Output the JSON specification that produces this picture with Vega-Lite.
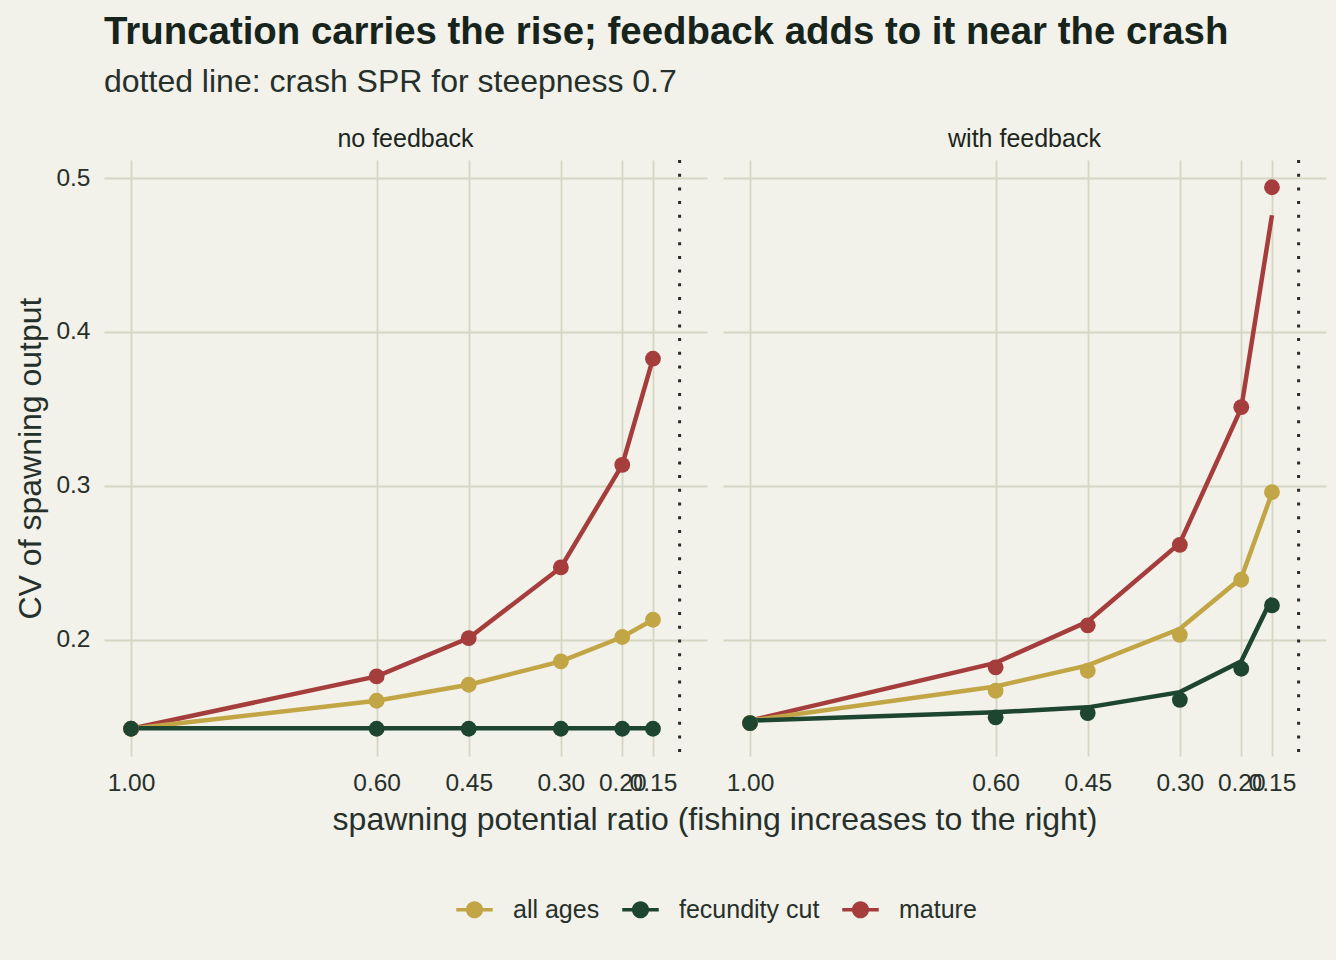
{
  "$schema": "https://vega.github.io/schema/vega-lite/v6.json",
  "background": "#f2f1ea",
  "padding": {"left": 14, "top": 12, "right": 10, "bottom": 40},
  "title": {
    "text": "Truncation carries the rise; feedback adds to it near the crash",
    "subtitle": "dotted line: crash SPR for steepness 0.7",
    "anchor": "start",
    "frame": "group",
    "font": "Liberation Sans",
    "fontSize": 38.4,
    "fontWeight": "bold",
    "color": "#17241c",
    "subtitleFont": "Liberation Sans",
    "subtitleFontSize": 32,
    "subtitleColor": "#26302a",
    "subtitlePadding": 15,
    "offset": 28
  },
  "data": {
    "values": [
      {"panel": "no feedback", "series": "mature", "spr": 1.0, "cv": 0.1422, "cv_line": 0.1422, "crash": 0.1066},
      {"panel": "no feedback", "series": "mature", "spr": 0.6, "cv": 0.1762, "cv_line": 0.1762, "crash": 0.1066},
      {"panel": "no feedback", "series": "mature", "spr": 0.45, "cv": 0.2011, "cv_line": 0.2011, "crash": 0.1066},
      {"panel": "no feedback", "series": "mature", "spr": 0.3, "cv": 0.247, "cv_line": 0.247, "crash": 0.1066},
      {"panel": "no feedback", "series": "mature", "spr": 0.2, "cv": 0.3136, "cv_line": 0.3136, "crash": 0.1066},
      {"panel": "no feedback", "series": "mature", "spr": 0.15, "cv": 0.3826, "cv_line": 0.3826, "crash": 0.1066},
      {"panel": "no feedback", "series": "all ages", "spr": 1.0, "cv": 0.1422, "cv_line": 0.1422, "crash": 0.1066},
      {"panel": "no feedback", "series": "all ages", "spr": 0.6, "cv": 0.1604, "cv_line": 0.1604, "crash": 0.1066},
      {"panel": "no feedback", "series": "all ages", "spr": 0.45, "cv": 0.1708, "cv_line": 0.1708, "crash": 0.1066},
      {"panel": "no feedback", "series": "all ages", "spr": 0.3, "cv": 0.186, "cv_line": 0.186, "crash": 0.1066},
      {"panel": "no feedback", "series": "all ages", "spr": 0.2, "cv": 0.2018, "cv_line": 0.2018, "crash": 0.1066},
      {"panel": "no feedback", "series": "all ages", "spr": 0.15, "cv": 0.213, "cv_line": 0.213, "crash": 0.1066},
      {"panel": "no feedback", "series": "fecundity cut", "spr": 1.0, "cv": 0.1422, "cv_line": 0.1425, "crash": 0.1066},
      {"panel": "no feedback", "series": "fecundity cut", "spr": 0.6, "cv": 0.1422, "cv_line": 0.1425, "crash": 0.1066},
      {"panel": "no feedback", "series": "fecundity cut", "spr": 0.45, "cv": 0.1422, "cv_line": 0.1425, "crash": 0.1066},
      {"panel": "no feedback", "series": "fecundity cut", "spr": 0.3, "cv": 0.1422, "cv_line": 0.1425, "crash": 0.1066},
      {"panel": "no feedback", "series": "fecundity cut", "spr": 0.2, "cv": 0.1422, "cv_line": 0.1425, "crash": 0.1066},
      {"panel": "no feedback", "series": "fecundity cut", "spr": 0.15, "cv": 0.1422, "cv_line": 0.1425, "crash": 0.1066},
      {"panel": "with feedback", "series": "mature", "spr": 1.0, "cv": 0.1459, "cv_line": 0.1475, "crash": 0.1066},
      {"panel": "with feedback", "series": "mature", "spr": 0.6, "cv": 0.1821, "cv_line": 0.185, "crash": 0.1066},
      {"panel": "with feedback", "series": "mature", "spr": 0.45, "cv": 0.2094, "cv_line": 0.2119, "crash": 0.1066},
      {"panel": "with feedback", "series": "mature", "spr": 0.3, "cv": 0.2617, "cv_line": 0.2628, "crash": 0.1066},
      {"panel": "with feedback", "series": "mature", "spr": 0.2, "cv": 0.3511, "cv_line": 0.3505, "crash": 0.1066},
      {"panel": "with feedback", "series": "mature", "spr": 0.15, "cv": 0.494, "cv_line": 0.4758, "crash": 0.1066},
      {"panel": "with feedback", "series": "all ages", "spr": 1.0, "cv": 0.1459, "cv_line": 0.1475, "crash": 0.1066},
      {"panel": "with feedback", "series": "all ages", "spr": 0.6, "cv": 0.1669, "cv_line": 0.1697, "crash": 0.1066},
      {"panel": "with feedback", "series": "all ages", "spr": 0.45, "cv": 0.1799, "cv_line": 0.1834, "crash": 0.1066},
      {"panel": "with feedback", "series": "all ages", "spr": 0.3, "cv": 0.2032, "cv_line": 0.2071, "crash": 0.1066},
      {"panel": "with feedback", "series": "all ages", "spr": 0.2, "cv": 0.239, "cv_line": 0.2401, "crash": 0.1066},
      {"panel": "with feedback", "series": "all ages", "spr": 0.15, "cv": 0.2959, "cv_line": 0.2953, "crash": 0.1066},
      {"panel": "with feedback", "series": "fecundity cut", "spr": 1.0, "cv": 0.1459, "cv_line": 0.1475, "crash": 0.1066},
      {"panel": "with feedback", "series": "fecundity cut", "spr": 0.6, "cv": 0.1496, "cv_line": 0.1529, "crash": 0.1066},
      {"panel": "with feedback", "series": "fecundity cut", "spr": 0.45, "cv": 0.1524, "cv_line": 0.1561, "crash": 0.1066},
      {"panel": "with feedback", "series": "fecundity cut", "spr": 0.3, "cv": 0.161, "cv_line": 0.166, "crash": 0.1066},
      {"panel": "with feedback", "series": "fecundity cut", "spr": 0.2, "cv": 0.1812, "cv_line": 0.186, "crash": 0.1066},
      {"panel": "with feedback", "series": "fecundity cut", "spr": 0.15, "cv": 0.2223, "cv_line": 0.2271, "crash": 0.1066}
    ]
  },
  "facet": {
    "column": {
      "field": "panel",
      "type": "nominal",
      "sort": ["no feedback", "with feedback"],
      "title": "spawning potential ratio (fishing increases to the right)",
      "header": {
        "titleOrient": "bottom",
        "labelOrient": "top",
        "labelFont": "Liberation Sans",
        "labelFontSize": 25,
        "labelColor": "#1c2620",
        "labelPadding": 6,
        "titleFont": "Liberation Sans",
        "titleFontSize": 32,
        "titleFontWeight": "normal",
        "titleColor": "#26302a",
        "titlePadding": 0
      }
    }
  },
  "spacing": 16,
  "spec": {
    "width": 603,
    "height": 596,
    "layer": [
      {
        "transform": [{"filter": "datum.series === 'fecundity cut' && datum.spr === 1"}],
        "mark": {"type": "rule", "color": "#2a2a2a", "strokeWidth": 3, "strokeDash": [3, 10.7]},
        "encoding": {
          "x": {"field": "crash", "type": "quantitative", "scale": {"domain": [0.062, 1.044], "reverse": true, "nice": false, "zero": false},
                "axis": {"values": [1, 0.6, 0.45, 0.3, 0.2, 0.15], "format": ".2f", "labelOverlap": false, "labelFlush": false, "title": null}}
        }
      },
      {
        "mark": {"type": "line", "strokeWidth": 4.5},
        "encoding": {
          "x": {"field": "spr", "type": "quantitative", "scale": {"domain": [0.062, 1.044], "reverse": true, "nice": false, "zero": false},
                "axis": {"values": [1, 0.6, 0.45, 0.3, 0.2, 0.15], "format": ".2f", "labelOverlap": false, "labelFlush": false, "title": null}},
          "y": {"field": "cv_line", "type": "quantitative", "scale": {"domain": [0.1245, 0.5117], "nice": false, "zero": false},
                "axis": {"values": [0.2, 0.3, 0.4, 0.5], "format": ".1f", "title": "CV of spawning output"}},
          "color": {
            "field": "series",
            "type": "nominal",
            "scale": {"domain": ["all ages", "fecundity cut", "mature"], "range": ["#c2a646", "#1e4530", "#a63d3d"]},
            "legend": {
              "title": null,
              "orient": "none",
              "legendX": 352,
              "legendY": 731,
              "direction": "horizontal",
              "symbolType": "M-1,-0.09 H1 V0.09 H-1 Z M0.47,0 A0.47,0.47 0 1,1 -0.47,0 A0.47,0.47 0 1,1 0.47,0 Z",
              "symbolSize": 1332,
              "symbolStrokeWidth": 0,
              "symbolOpacity": 1,
              "labelFont": "Liberation Sans",
              "labelFontSize": 25,
              "labelColor": "#26302a",
              "labelOffset": 20,
              "columnPadding": 22
            }
          },
          "order": {"field": "spr", "sort": "descending"}
        }
      },
      {
        "mark": {"type": "point", "filled": true, "opacity": 1, "size": 250, "shape": "circle"},
        "encoding": {
          "x": {"field": "spr", "type": "quantitative"},
          "y": {"field": "cv", "type": "quantitative", "axis": {"values": [0.2, 0.3, 0.4, 0.5], "format": ".1f", "title": "CV of spawning output"}},
          "color": {
            "field": "series",
            "type": "nominal",
            "scale": {"domain": ["all ages", "fecundity cut", "mature"], "range": ["#c2a646", "#1e4530", "#a63d3d"]},
            "legend": {
              "title": null,
              "orient": "none",
              "legendX": 352,
              "legendY": 731,
              "direction": "horizontal",
              "symbolType": "M-1,-0.09 H1 V0.09 H-1 Z M0.47,0 A0.47,0.47 0 1,1 -0.47,0 A0.47,0.47 0 1,1 0.47,0 Z",
              "symbolSize": 1332,
              "symbolStrokeWidth": 0,
              "symbolOpacity": 1,
              "labelFont": "Liberation Sans",
              "labelFontSize": 25,
              "labelColor": "#26302a",
              "labelOffset": 20,
              "columnPadding": 22
            }
          }
        }
      }
    ]
  },
  "config": {
    "font": "Liberation Sans",
    "view": {"stroke": null},
    "axis": {
      "domain": false,
      "ticks": false,
      "gridColor": "#d6d6c4",
      "gridWidth": 1.8,
      "labelFont": "Liberation Sans",
      "labelFontSize": 24.5,
      "labelColor": "#26302a",
      "titleFont": "Liberation Sans",
      "titleFontSize": 32,
      "titleFontWeight": "normal",
      "titleColor": "#26302a"
    },
    "axisX": {"labelPadding": 13},
    "axisY": {"labelPadding": 14, "titlePadding": 8}
  }
}
